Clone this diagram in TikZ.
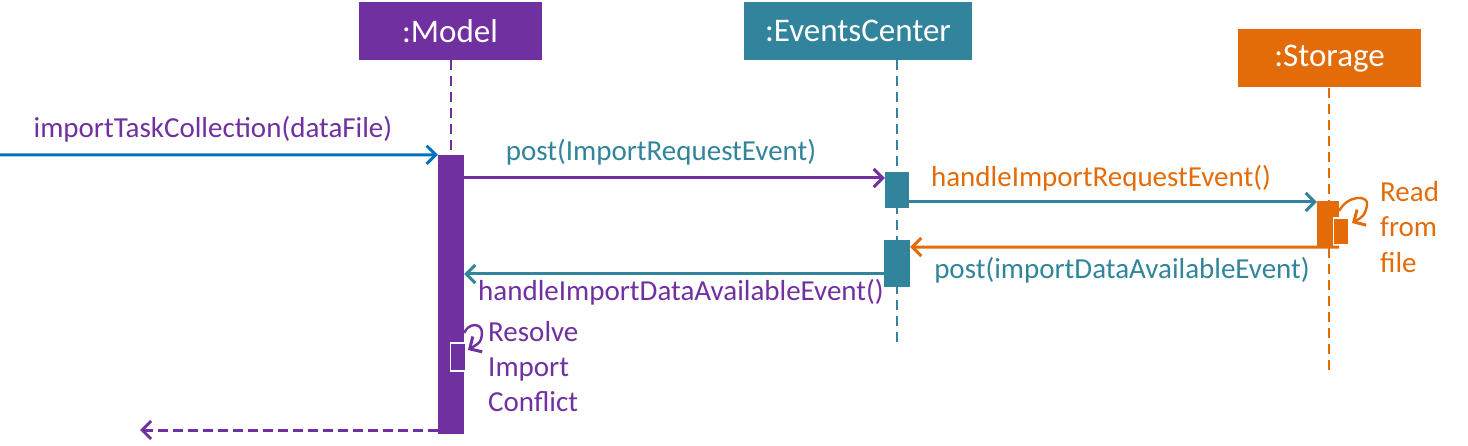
\documentclass[tikz,border=0pt]{standalone}
\usepackage{fontspec}
\setmainfont{Carlito}
\usetikzlibrary{arrows.meta}
\definecolor{modelpurple}{HTML}{7030A0}
\definecolor{eventsteal}{HTML}{31849B}
\definecolor{storageorange}{HTML}{E36C09}
\definecolor{callblue}{HTML}{0070C0}
\tikzset{
  objbox/.style={rectangle, fill=#1, text=white, inner sep=0pt, minimum height=58,
    font=\fontsize{33}{38}\selectfont},
  lifeline/.style={#1, line width=2.4, dash pattern=on 10 off 6},
  actbar/.style={rectangle, fill=#1, inner sep=0pt, minimum width=24},
  msg/.style={#1, line width=3, -{Straight Barb[length=9,width=18,line width=3]}},
  msglabel/.style={text=#1, inner sep=0pt, font=\fontsize{29}{34}\selectfont},
}
\begin{document}
\begin{tikzpicture}[x=1pt, y=-1pt]
	%%%%% frame %%%%%
	\useasboundingbox (0,0) rectangle (1468,446);
	
	%%%%% objects %%%%%
	\node[objbox=modelpurple, minimum width=183] (model) at (450,31) {:Model};
	\node[objbox=eventsteal, minimum width=228] (events) at (858,31) {:EventsCenter};
	\node[objbox=storageorange, minimum width=183] (storage) at (1329.5,58.5) {:Storage};
	
	%%%%% lifelines %%%%%
	\coordinate (modelend) at (451,155);
	\coordinate (eventsend) at (897,343);
	\coordinate (storageend) at (1329,371);
	\draw[lifeline=modelpurple] (model.south -| modelend) -- (modelend);
	\draw[lifeline=eventsteal] (events.south -| eventsend) -- (eventsend);
	\draw[lifeline=storageorange] (storage.south -| storageend) -- (storageend);
	
	%%%%% activations %%%%%
	\node[actbar=modelpurple, minimum width=26, minimum height=279] (modelbar) at (451,294.5) {};
	\node[actbar=eventsteal, minimum height=36] (eventsbarA) at (897,190) {};
	\node[actbar=eventsteal, minimum width=26, minimum height=47] (eventsbarB) at (897,263.5) {};
	\node[actbar=storageorange, minimum width=22, minimum height=46] (storagebar) at (1328,224) {};
	\node[actbar=storageorange, draw=white, line width=1.2, minimum width=15, minimum height=27] (storageself) at (1341,231.5) {};
	\node[actbar=modelpurple, draw=white, line width=1.2, minimum width=15, minimum height=28] (modelself) at (458,357) {};
	
	%%%%% messages %%%%%
	\coordinate (caller) at (0,155);
	\coordinate (msgA) at (0,178);
	\coordinate (msgB) at (0,202);
	\coordinate (msgC) at (0,247);
	\coordinate (msgD) at (0,274);
	\coordinate (backend) at (140,430);
	\draw[msg=callblue] (caller) -- (modelbar.north west);
	\draw[msg=modelpurple] (modelbar.east |- msgA) -- (eventsbarA.west |- msgA);
	\draw[msg=eventsteal] (eventsbarA.east |- msgB) -- (storagebar.west |- msgB);
	\draw[msg=storageorange] (storagebar.south east) -- (eventsbarB.east |- msgC);
	\draw[msg=eventsteal] (eventsbarB.west |- msgD) -- (modelbar.east |- msgD);
	\draw[msg=modelpurple, dash pattern=on 10 off 5] (modelbar.south west |- backend) -- (backend);
	
	%%%%% self calls %%%%%
	\coordinate (storageloop) at (1352,223);
	\coordinate (modelloop) at (468,350);
	\draw[msg=storageorange, line width=2.4] (storagebar.east |- 0,211) .. controls (1347,195) and (1370,194) .. (1367,206) .. controls (1364,216) .. (storageloop);
	\draw[msg=modelpurple, line width=2.4] (modelbar.east |- 0,333) .. controls (468,323) and (482,322) .. (482,333) .. controls (481,342) .. (modelloop);
	
	%%%%% labels %%%%%
	\node[msglabel=modelpurple, anchor=base] (lblcall) at (213,138) {importTaskCollection(dataFile)};
	\node[msglabel=eventsteal, anchor=base] (lblA) at (661,161) {post(ImportRequestEvent)};
	\node[msglabel=storageorange, anchor=base] (lblB) at (1101,187) {handleImportRequestEvent()};
	\node[msglabel=eventsteal, anchor=base] (lblC) at (1122,279) {post(importDataAvailableEvent)};
	\node[msglabel=modelpurple, anchor=base] (lblD) at (681,301) {handleImportDataAvailableEvent()};
	\node[msglabel=storageorange, anchor=north west, align=left, font=\fontsize{29}{35.5}\selectfont] (lblread) at (1380,181) {Read\\from\\file};
	\node[msglabel=modelpurple, anchor=north west, align=left, font=\fontsize{29}{35}\selectfont] (lblresolve) at (488,321) {Resolve\\Import\\Conflict};
	
\end{tikzpicture}
\end{document}
